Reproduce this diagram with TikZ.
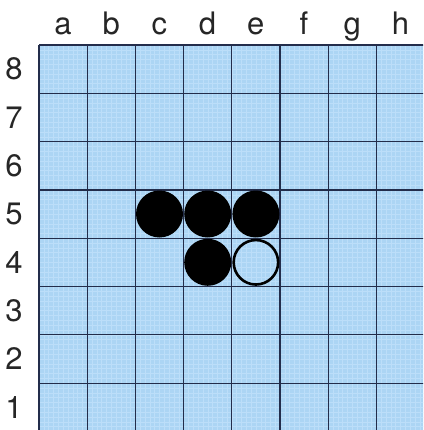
\documentclass[tikz,border=0pt]{standalone}
\usepackage{fontspec}
\setmainfont{TeX Gyre Heros}
\definecolor{boardblue}{RGB}{172,213,244}
\definecolor{finegrid}{RGB}{188,222,249}
\definecolor{gridline}{RGB}{35,45,75}
\tikzset{
  lbl/.style={font=\fontsize{31}{31}\selectfont, text=black!85, inner sep=0pt},
  blackstone/.style={circle, fill=black, minimum size=47pt, inner sep=0pt},
  whitestone/.style={circle, draw=black, line width=2.6pt, minimum size=44.5pt, inner sep=0pt},
}
\begin{document}
\begin{tikzpicture}[x=1pt,y=-1pt]
\useasboundingbox (0,0) rectangle (423,430);
\fill[white] (0,0) rectangle (423,430);
\begin{scope}
\clip (0,0) rectangle (423,430);
\fill[boardblue] (39,45) rectangle (440,440);
\foreach \i in {0,...,84} {
  \draw[finegrid, line width=0.4pt] ({39+\i*4.82},45) -- ({39+\i*4.82},440);
  \draw[finegrid, line width=0.4pt] (39,{45+\i*4.83}) -- (440,{45+\i*4.83});
}
\foreach \i in {0,...,8} {
  \draw[gridline, line width=1.2pt] ({39+\i*48.2},45) -- ({39+\i*48.2},440);
  \draw[gridline, line width=1.2pt] (39,{45+\i*48.3}) -- (440,{45+\i*48.3});
}
\end{scope}
\foreach \l [count=\i from 0] in {a,b,c,d,e,f,g,h} {
  \node[lbl, anchor=base] (col\l) at ({63+\i*48.2},35) {\l};
}
\foreach \n [count=\i from 0] in {8,7,6,5,4,3,2,1} {
  \node[lbl] (row\n) at (14,{69+\i*48.3}) {\n};
}
\node[blackstone] (c5) at (159.5,214) {};
\node[blackstone] (d5) at (207.7,214) {};
\node[blackstone] (e5) at (255.9,214) {};
\node[blackstone] (d4) at (207.7,262.3) {};
\node[whitestone] (e4) at (255.9,262.3) {};
\end{tikzpicture}
\end{document}
